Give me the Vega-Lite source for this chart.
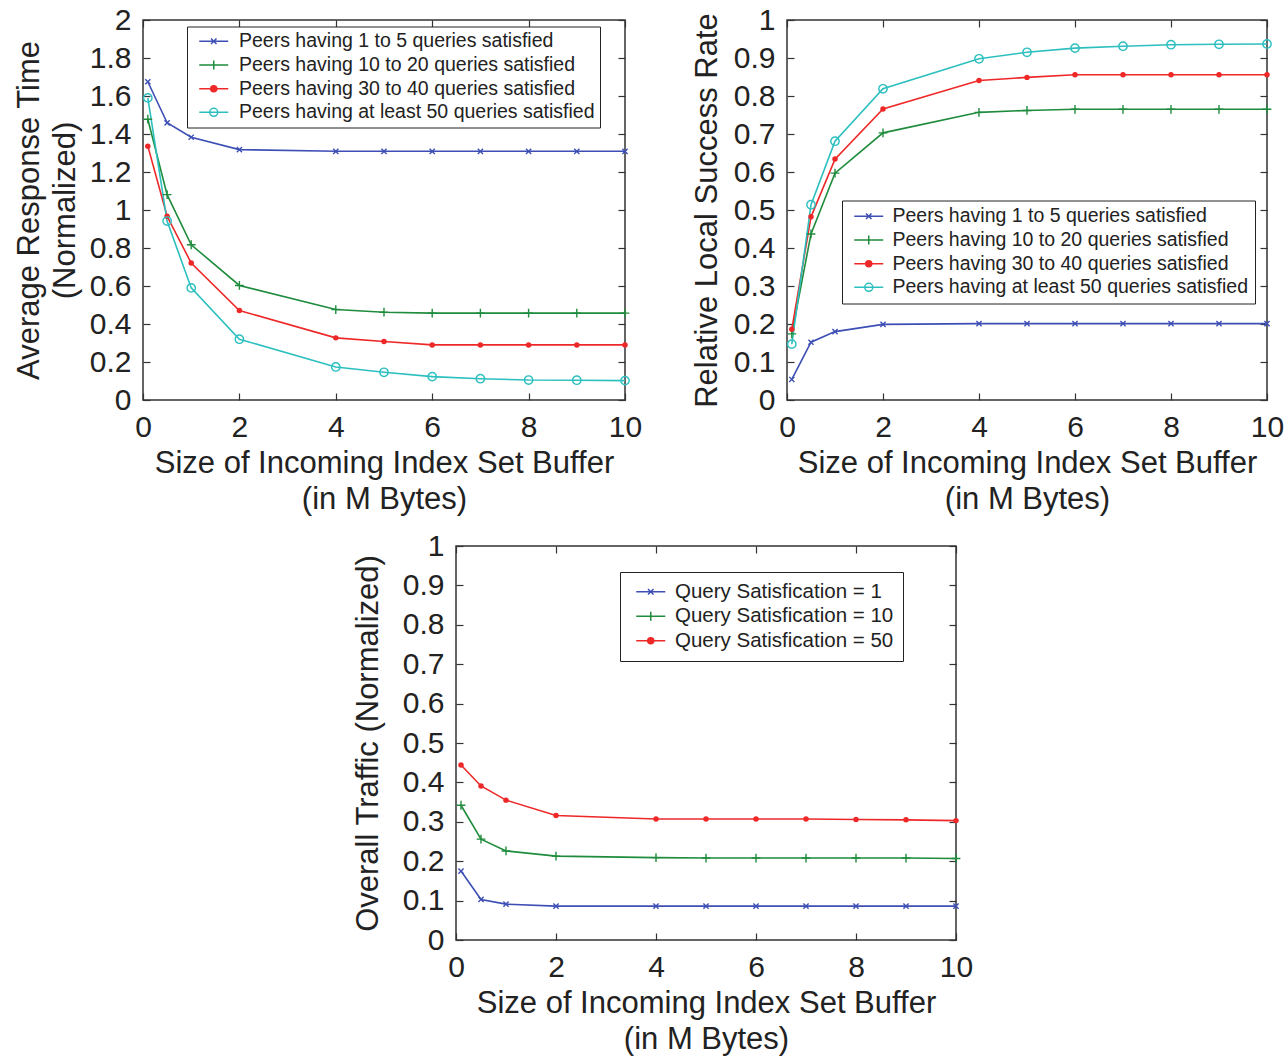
{
  "$schema": "https://vega.github.io/schema/vega-lite/v6.json",
  "padding": {"left": 12, "top": 4, "right": 2, "bottom": 2},
  "background": "white",
  "datasets": {
    "ta": [
      {"x":0.1,"s":"Peers having 1 to 5 queries satisfied","v":1.675},{"x":0.5,"s":"Peers having 1 to 5 queries satisfied","v":1.459},{"x":1,"s":"Peers having 1 to 5 queries satisfied","v":1.383},{"x":2,"s":"Peers having 1 to 5 queries satisfied","v":1.318},{"x":4,"s":"Peers having 1 to 5 queries satisfied","v":1.309},{"x":5,"s":"Peers having 1 to 5 queries satisfied","v":1.309},{"x":6,"s":"Peers having 1 to 5 queries satisfied","v":1.309},{"x":7,"s":"Peers having 1 to 5 queries satisfied","v":1.309},{"x":8,"s":"Peers having 1 to 5 queries satisfied","v":1.309},{"x":9,"s":"Peers having 1 to 5 queries satisfied","v":1.309},{"x":10,"s":"Peers having 1 to 5 queries satisfied","v":1.309},
      {"x":0.1,"s":"Peers having 10 to 20 queries satisfied","v":1.478},{"x":0.5,"s":"Peers having 10 to 20 queries satisfied","v":1.081},{"x":1,"s":"Peers having 10 to 20 queries satisfied","v":0.817},{"x":2,"s":"Peers having 10 to 20 queries satisfied","v":0.603},{"x":4,"s":"Peers having 10 to 20 queries satisfied","v":0.476},{"x":5,"s":"Peers having 10 to 20 queries satisfied","v":0.462},{"x":6,"s":"Peers having 10 to 20 queries satisfied","v":0.457},{"x":7,"s":"Peers having 10 to 20 queries satisfied","v":0.457},{"x":8,"s":"Peers having 10 to 20 queries satisfied","v":0.457},{"x":9,"s":"Peers having 10 to 20 queries satisfied","v":0.457},{"x":10,"s":"Peers having 10 to 20 queries satisfied","v":0.457},
      {"x":0.1,"s":"Peers having 30 to 40 queries satisfied","v":1.336},{"x":0.5,"s":"Peers having 30 to 40 queries satisfied","v":0.967},{"x":1,"s":"Peers having 30 to 40 queries satisfied","v":0.721},{"x":2,"s":"Peers having 30 to 40 queries satisfied","v":0.471},{"x":4,"s":"Peers having 30 to 40 queries satisfied","v":0.327},{"x":5,"s":"Peers having 30 to 40 queries satisfied","v":0.308},{"x":6,"s":"Peers having 30 to 40 queries satisfied","v":0.290},{"x":7,"s":"Peers having 30 to 40 queries satisfied","v":0.290},{"x":8,"s":"Peers having 30 to 40 queries satisfied","v":0.290},{"x":9,"s":"Peers having 30 to 40 queries satisfied","v":0.290},{"x":10,"s":"Peers having 30 to 40 queries satisfied","v":0.290},
      {"x":0.1,"s":"Peers having at least 50 queries satisfied","v":1.590},{"x":0.5,"s":"Peers having at least 50 queries satisfied","v":0.942},{"x":1,"s":"Peers having at least 50 queries satisfied","v":0.590},{"x":2,"s":"Peers having at least 50 queries satisfied","v":0.320},{"x":4,"s":"Peers having at least 50 queries satisfied","v":0.174},{"x":5,"s":"Peers having at least 50 queries satisfied","v":0.146},{"x":6,"s":"Peers having at least 50 queries satisfied","v":0.123},{"x":7,"s":"Peers having at least 50 queries satisfied","v":0.112},{"x":8,"s":"Peers having at least 50 queries satisfied","v":0.105},{"x":9,"s":"Peers having at least 50 queries satisfied","v":0.104},{"x":10,"s":"Peers having at least 50 queries satisfied","v":0.102}
    ],
    "tb": [
      {"x":0.1,"s":"Peers having 1 to 5 queries satisfied","v":0.054},{"x":0.5,"s":"Peers having 1 to 5 queries satisfied","v":0.152},{"x":1,"s":"Peers having 1 to 5 queries satisfied","v":0.180},{"x":2,"s":"Peers having 1 to 5 queries satisfied","v":0.199},{"x":4,"s":"Peers having 1 to 5 queries satisfied","v":0.201},{"x":5,"s":"Peers having 1 to 5 queries satisfied","v":0.201},{"x":6,"s":"Peers having 1 to 5 queries satisfied","v":0.201},{"x":7,"s":"Peers having 1 to 5 queries satisfied","v":0.201},{"x":8,"s":"Peers having 1 to 5 queries satisfied","v":0.201},{"x":9,"s":"Peers having 1 to 5 queries satisfied","v":0.201},{"x":10,"s":"Peers having 1 to 5 queries satisfied","v":0.201},
      {"x":0.1,"s":"Peers having 10 to 20 queries satisfied","v":0.174},{"x":0.5,"s":"Peers having 10 to 20 queries satisfied","v":0.437},{"x":1,"s":"Peers having 10 to 20 queries satisfied","v":0.597},{"x":2,"s":"Peers having 10 to 20 queries satisfied","v":0.703},{"x":4,"s":"Peers having 10 to 20 queries satisfied","v":0.757},{"x":5,"s":"Peers having 10 to 20 queries satisfied","v":0.762},{"x":6,"s":"Peers having 10 to 20 queries satisfied","v":0.765},{"x":7,"s":"Peers having 10 to 20 queries satisfied","v":0.765},{"x":8,"s":"Peers having 10 to 20 queries satisfied","v":0.765},{"x":9,"s":"Peers having 10 to 20 queries satisfied","v":0.765},{"x":10,"s":"Peers having 10 to 20 queries satisfied","v":0.765},
      {"x":0.1,"s":"Peers having 30 to 40 queries satisfied","v":0.186},{"x":0.5,"s":"Peers having 30 to 40 queries satisfied","v":0.482},{"x":1,"s":"Peers having 30 to 40 queries satisfied","v":0.634},{"x":2,"s":"Peers having 30 to 40 queries satisfied","v":0.766},{"x":4,"s":"Peers having 30 to 40 queries satisfied","v":0.841},{"x":5,"s":"Peers having 30 to 40 queries satisfied","v":0.849},{"x":6,"s":"Peers having 30 to 40 queries satisfied","v":0.856},{"x":7,"s":"Peers having 30 to 40 queries satisfied","v":0.856},{"x":8,"s":"Peers having 30 to 40 queries satisfied","v":0.856},{"x":9,"s":"Peers having 30 to 40 queries satisfied","v":0.856},{"x":10,"s":"Peers having 30 to 40 queries satisfied","v":0.856},
      {"x":0.1,"s":"Peers having at least 50 queries satisfied","v":0.147},{"x":0.5,"s":"Peers having at least 50 queries satisfied","v":0.514},{"x":1,"s":"Peers having at least 50 queries satisfied","v":0.681},{"x":2,"s":"Peers having at least 50 queries satisfied","v":0.819},{"x":4,"s":"Peers having at least 50 queries satisfied","v":0.898},{"x":5,"s":"Peers having at least 50 queries satisfied","v":0.915},{"x":6,"s":"Peers having at least 50 queries satisfied","v":0.926},{"x":7,"s":"Peers having at least 50 queries satisfied","v":0.931},{"x":8,"s":"Peers having at least 50 queries satisfied","v":0.935},{"x":9,"s":"Peers having at least 50 queries satisfied","v":0.936},{"x":10,"s":"Peers having at least 50 queries satisfied","v":0.937}
    ],
    "tc": [
      {"x":0.1,"s":"Query Satisfication = 1","v":0.175},{"x":0.5,"s":"Query Satisfication = 1","v":0.103},{"x":1,"s":"Query Satisfication = 1","v":0.091},{"x":2,"s":"Query Satisfication = 1","v":0.086},{"x":4,"s":"Query Satisfication = 1","v":0.086},{"x":5,"s":"Query Satisfication = 1","v":0.086},{"x":6,"s":"Query Satisfication = 1","v":0.086},{"x":7,"s":"Query Satisfication = 1","v":0.086},{"x":8,"s":"Query Satisfication = 1","v":0.086},{"x":9,"s":"Query Satisfication = 1","v":0.086},{"x":10,"s":"Query Satisfication = 1","v":0.086},
      {"x":0.1,"s":"Query Satisfication = 10","v":0.342},{"x":0.5,"s":"Query Satisfication = 10","v":0.256},{"x":1,"s":"Query Satisfication = 10","v":0.226},{"x":2,"s":"Query Satisfication = 10","v":0.213},{"x":4,"s":"Query Satisfication = 10","v":0.209},{"x":5,"s":"Query Satisfication = 10","v":0.208},{"x":6,"s":"Query Satisfication = 10","v":0.208},{"x":7,"s":"Query Satisfication = 10","v":0.208},{"x":8,"s":"Query Satisfication = 10","v":0.208},{"x":9,"s":"Query Satisfication = 10","v":0.208},{"x":10,"s":"Query Satisfication = 10","v":0.207},
      {"x":0.1,"s":"Query Satisfication = 50","v":0.444},{"x":0.5,"s":"Query Satisfication = 50","v":0.391},{"x":1,"s":"Query Satisfication = 50","v":0.355},{"x":2,"s":"Query Satisfication = 50","v":0.316},{"x":4,"s":"Query Satisfication = 50","v":0.307},{"x":5,"s":"Query Satisfication = 50","v":0.307},{"x":6,"s":"Query Satisfication = 50","v":0.307},{"x":7,"s":"Query Satisfication = 50","v":0.307},{"x":8,"s":"Query Satisfication = 50","v":0.306},{"x":9,"s":"Query Satisfication = 50","v":0.305},{"x":10,"s":"Query Satisfication = 50","v":0.303}
    ]
  },
  "resolve": {"scale": {"color": "independent", "shape": "independent", "fill": "independent"}, "legend": {"color": "independent", "shape": "independent", "fill": "independent"}},
  "spacing": 15,
  "vconcat": [
    {
      "hconcat": [
        {
          "width": 482, "height": 380,
          "data": {"name": "ta"},
          "layer": [
            {
              "mark": {"type": "point", "filled": false, "strokeWidth": 1.5, "opacity": 0},
              "encoding": {
                "x": {"field": "x", "type": "quantitative", "scale": {"domain": [0, 10], "nice": false, "zero": false}, "axis": null},
                "y": {"field": "v", "type": "quantitative", "scale": {"domain": [0, 2], "nice": false}, "axis": null},
                "color": {"field": "s", "type": "nominal",
                  "scale": {"domain": ["Peers having 1 to 5 queries satisfied", "Peers having 10 to 20 queries satisfied", "Peers having 30 to 40 queries satisfied", "Peers having at least 50 queries satisfied"], "range": ["#3d4fb5", "#1e8c3c", "#ee2828", "#2cbfbf"]},
                  "legend": {"title": null, "orient": "none", "legendX": 44, "legendY": 6.5, "strokeColor": "#222", "fillColor": "white", "padding": 5, "labelFontSize": 19.5, "labelColor": "#222", "labelLimit": 1000, "symbolSize": 100, "symbolOffset": 12, "labelOffset": 15.5, "rowPadding": 2.7, "symbolStrokeWidth": 1.5, "symbolOpacity": 1}},
                "shape": {"field": "s", "type": "nominal",
                  "legend": {"title": null, "orient": "none", "legendX": 44, "legendY": 6.5, "strokeColor": "#222", "fillColor": "white", "padding": 5, "labelFontSize": 19.5, "labelColor": "#222", "labelLimit": 1000, "symbolSize": 100, "symbolOffset": 12, "labelOffset": 15.5, "rowPadding": 2.7, "symbolStrokeWidth": 1.5, "symbolOpacity": 1},
                  "scale": {"domain": ["Peers having 1 to 5 queries satisfied", "Peers having 10 to 20 queries satisfied", "Peers having 30 to 40 queries satisfied", "Peers having at least 50 queries satisfied"], "range": ["M-2.9,0H2.9M-0.55,-0.55L0.55,0.55M-0.55,0.55L0.55,-0.55", "M-2.9,0H2.9M0,-0.9V0.9", "M-2.9,0H2.9M-0.6,0A0.6,0.6 0 1,0 0.6,0A0.6,0.6 0 1,0 -0.6,0Z", "M-2.9,0H2.9M-0.8,0A0.8,0.8 0 1,0 0.8,0A0.8,0.8 0 1,0 -0.8,0Z"]}},
                "fill": {"field": "s", "type": "nominal",
                  "legend": {"title": null, "orient": "none", "legendX": 44, "legendY": 6.5, "strokeColor": "#222", "fillColor": "white", "padding": 5, "labelFontSize": 19.5, "labelColor": "#222", "labelLimit": 1000, "symbolSize": 100, "symbolOffset": 12, "labelOffset": 15.5, "rowPadding": 2.7, "symbolStrokeWidth": 1.5, "symbolOpacity": 1},
                  "scale": {"domain": ["Peers having 1 to 5 queries satisfied", "Peers having 10 to 20 queries satisfied", "Peers having 30 to 40 queries satisfied", "Peers having at least 50 queries satisfied"], "range": ["transparent", "transparent", "#ee2828", "transparent"]}}
              }
            },
            {
              "mark": {"type": "line", "strokeWidth": 1.6},
              "encoding": {
                "x": {"field": "x", "type": "quantitative", "axis": {"values": [0, 2, 4, 6, 8, 10], "title": ["Size of Incoming Index Set Buffer", "(in M Bytes)"]}},
                "y": {"field": "v", "type": "quantitative", "axis": {"values": [0, 0.2, 0.4, 0.6, 0.8, 1, 1.2, 1.4, 1.6, 1.8, 2], "format": ".1~f", "titlePadding": 8, "title": ["Average Response Time", "(Normalized)"]}},
                "color": {"field": "s", "type": "nominal", "legend": null}
              }
            },
            {
              "transform": [{"filter": {"field": "s", "equal": "Peers having 1 to 5 queries satisfied"}}],
              "mark": {"type": "point", "shape": "M-0.65,-0.65L0.65,0.65M-0.65,0.65L0.65,-0.65", "filled": false, "size": 64, "strokeWidth": 1.4, "opacity": 1, "color": "#3d4fb5"},
              "encoding": {
                "x": {"field": "x", "type": "quantitative", "axis": {"orient": "top", "values": [0, 2, 4, 6, 8, 10], "labels": false, "title": null}},
                "y": {"field": "v", "type": "quantitative", "axis": {"orient": "right", "values": [0, 0.2, 0.4, 0.6, 0.8, 1, 1.2, 1.4, 1.6, 1.8, 2], "labels": false, "title": null}}
              }
            },
            {
              "transform": [{"filter": {"field": "s", "equal": "Peers having 10 to 20 queries satisfied"}}],
              "mark": {"type": "point", "shape": "M-1.1,0H1.1M0,-1.1V1.1", "filled": false, "size": 64, "strokeWidth": 1.4, "opacity": 1, "color": "#1e8c3c"},
              "encoding": {"x": {"field": "x", "type": "quantitative", "axis": null}, "y": {"field": "v", "type": "quantitative", "axis": null}}
            },
            {
              "transform": [{"filter": {"field": "s", "equal": "Peers having 30 to 40 queries satisfied"}}],
              "mark": {"type": "point", "shape": "circle", "filled": true, "size": 30, "opacity": 1, "color": "#ee2828"},
              "encoding": {"x": {"field": "x", "type": "quantitative", "axis": null}, "y": {"field": "v", "type": "quantitative", "axis": null}}
            },
            {
              "transform": [{"filter": {"field": "s", "equal": "Peers having at least 50 queries satisfied"}}],
              "mark": {"type": "point", "shape": "circle", "filled": false, "size": 70, "strokeWidth": 1.4, "opacity": 1, "color": "#2cbfbf"},
              "encoding": {"x": {"field": "x", "type": "quantitative", "axis": null}, "y": {"field": "v", "type": "quantitative", "axis": null}}
            }
          ],
          "resolve": {"axis": {"x": "independent", "y": "independent"}}
        },
        {
          "width": 480, "height": 380,
          "data": {"name": "tb"},
          "layer": [
            {
              "mark": {"type": "point", "filled": false, "strokeWidth": 1.5, "opacity": 0},
              "encoding": {
                "x": {"field": "x", "type": "quantitative", "scale": {"domain": [0, 10], "nice": false, "zero": false}, "axis": null},
                "y": {"field": "v", "type": "quantitative", "scale": {"domain": [0, 1], "nice": false}, "axis": null},
                "color": {"field": "s", "type": "nominal",
                  "scale": {"domain": ["Peers having 1 to 5 queries satisfied", "Peers having 10 to 20 queries satisfied", "Peers having 30 to 40 queries satisfied", "Peers having at least 50 queries satisfied"], "range": ["#3d4fb5", "#1e8c3c", "#ee2828", "#2cbfbf"]},
                  "legend": {"title": null, "orient": "none", "legendX": 55, "legendY": 180.5, "strokeColor": "#222", "fillColor": "white", "padding": 6, "labelFontSize": 19.5, "labelColor": "#222", "labelLimit": 1000, "symbolSize": 100, "symbolOffset": 11, "labelOffset": 14, "rowPadding": 2.7, "symbolStrokeWidth": 1.5, "symbolOpacity": 1}},
                "shape": {"field": "s", "type": "nominal",
                  "legend": {"title": null, "orient": "none", "legendX": 55, "legendY": 180.5, "strokeColor": "#222", "fillColor": "white", "padding": 6, "labelFontSize": 19.5, "labelColor": "#222", "labelLimit": 1000, "symbolSize": 100, "symbolOffset": 11, "labelOffset": 14, "rowPadding": 2.7, "symbolStrokeWidth": 1.5, "symbolOpacity": 1},
                  "scale": {"domain": ["Peers having 1 to 5 queries satisfied", "Peers having 10 to 20 queries satisfied", "Peers having 30 to 40 queries satisfied", "Peers having at least 50 queries satisfied"], "range": ["M-2.9,0H2.9M-0.55,-0.55L0.55,0.55M-0.55,0.55L0.55,-0.55", "M-2.9,0H2.9M0,-0.9V0.9", "M-2.9,0H2.9M-0.6,0A0.6,0.6 0 1,0 0.6,0A0.6,0.6 0 1,0 -0.6,0Z", "M-2.9,0H2.9M-0.8,0A0.8,0.8 0 1,0 0.8,0A0.8,0.8 0 1,0 -0.8,0Z"]}},
                "fill": {"field": "s", "type": "nominal",
                  "legend": {"title": null, "orient": "none", "legendX": 55, "legendY": 180.5, "strokeColor": "#222", "fillColor": "white", "padding": 6, "labelFontSize": 19.5, "labelColor": "#222", "labelLimit": 1000, "symbolSize": 100, "symbolOffset": 11, "labelOffset": 14, "rowPadding": 2.7, "symbolStrokeWidth": 1.5, "symbolOpacity": 1},
                  "scale": {"domain": ["Peers having 1 to 5 queries satisfied", "Peers having 10 to 20 queries satisfied", "Peers having 30 to 40 queries satisfied", "Peers having at least 50 queries satisfied"], "range": ["transparent", "transparent", "#ee2828", "transparent"]}}
              }
            },
            {
              "mark": {"type": "line", "strokeWidth": 1.6},
              "encoding": {
                "x": {"field": "x", "type": "quantitative", "axis": {"values": [0, 2, 4, 6, 8, 10], "title": ["Size of Incoming Index Set Buffer", "(in M Bytes)"]}},
                "y": {"field": "v", "type": "quantitative", "axis": {"values": [0, 0.1, 0.2, 0.3, 0.4, 0.5, 0.6, 0.7, 0.8, 0.9, 1], "format": ".1~f", "titlePadding": 10, "title": "Relative Local Success Rate"}},
                "color": {"field": "s", "type": "nominal", "legend": null}
              }
            },
            {
              "transform": [{"filter": {"field": "s", "equal": "Peers having 1 to 5 queries satisfied"}}],
              "mark": {"type": "point", "shape": "M-0.65,-0.65L0.65,0.65M-0.65,0.65L0.65,-0.65", "filled": false, "size": 64, "strokeWidth": 1.4, "opacity": 1, "color": "#3d4fb5"},
              "encoding": {
                "x": {"field": "x", "type": "quantitative", "axis": {"orient": "top", "values": [0, 2, 4, 6, 8, 10], "labels": false, "title": null}},
                "y": {"field": "v", "type": "quantitative", "axis": {"orient": "right", "values": [0, 0.1, 0.2, 0.3, 0.4, 0.5, 0.6, 0.7, 0.8, 0.9, 1], "labels": false, "title": null}}
              }
            },
            {
              "transform": [{"filter": {"field": "s", "equal": "Peers having 10 to 20 queries satisfied"}}],
              "mark": {"type": "point", "shape": "M-1.1,0H1.1M0,-1.1V1.1", "filled": false, "size": 64, "strokeWidth": 1.4, "opacity": 1, "color": "#1e8c3c"},
              "encoding": {"x": {"field": "x", "type": "quantitative", "axis": null}, "y": {"field": "v", "type": "quantitative", "axis": null}}
            },
            {
              "transform": [{"filter": {"field": "s", "equal": "Peers having 30 to 40 queries satisfied"}}],
              "mark": {"type": "point", "shape": "circle", "filled": true, "size": 30, "opacity": 1, "color": "#ee2828"},
              "encoding": {"x": {"field": "x", "type": "quantitative", "axis": null}, "y": {"field": "v", "type": "quantitative", "axis": null}}
            },
            {
              "transform": [{"filter": {"field": "s", "equal": "Peers having at least 50 queries satisfied"}}],
              "mark": {"type": "point", "shape": "circle", "filled": false, "size": 70, "strokeWidth": 1.4, "opacity": 1, "color": "#2cbfbf"},
              "encoding": {"x": {"field": "x", "type": "quantitative", "axis": null}, "y": {"field": "v", "type": "quantitative", "axis": null}}
            }
          ],
          "resolve": {"axis": {"x": "independent", "y": "independent"}}
        }
      ],
      "spacing": 47,
      "resolve": {"scale": {"color": "independent", "shape": "independent", "fill": "independent"}, "legend": {"color": "independent", "shape": "independent", "fill": "independent"}}
    },
    {
      "hconcat": [
        {
          "width": 208, "height": 10,
          "view": {"stroke": null},
          "data": {"values": [{}]},
          "mark": {"type": "point", "opacity": 0},
          "encoding": {}
        },
        {
          "width": 500, "height": 394,
          "data": {"name": "tc"},
          "layer": [
            {
              "mark": {"type": "point", "filled": false, "strokeWidth": 1.5, "opacity": 0},
              "encoding": {
                "x": {"field": "x", "type": "quantitative", "scale": {"domain": [0, 10], "nice": false, "zero": false}, "axis": null},
                "y": {"field": "v", "type": "quantitative", "scale": {"domain": [0, 1], "nice": false}, "axis": null},
                "color": {"field": "s", "type": "nominal",
                  "scale": {"domain": ["Query Satisfication = 1", "Query Satisfication = 10", "Query Satisfication = 50"], "range": ["#3d4fb5", "#1e8c3c", "#ee2828"]},
                  "legend": {"title": null, "orient": "none", "legendX": 164, "legendY": 26, "strokeColor": "#222", "fillColor": "white", "padding": 9.5, "labelFontSize": 20.5, "labelColor": "#222", "labelLimit": 1000, "symbolSize": 100, "symbolOffset": 11, "labelOffset": 14, "rowPadding": 3.5, "symbolStrokeWidth": 1.5, "symbolOpacity": 1}},
                "shape": {"field": "s", "type": "nominal",
                  "legend": {"title": null, "orient": "none", "legendX": 164, "legendY": 26, "strokeColor": "#222", "fillColor": "white", "padding": 9.5, "labelFontSize": 20.5, "labelColor": "#222", "labelLimit": 1000, "symbolSize": 100, "symbolOffset": 11, "labelOffset": 14, "rowPadding": 3.5, "symbolStrokeWidth": 1.5, "symbolOpacity": 1},
                  "scale": {"domain": ["Query Satisfication = 1", "Query Satisfication = 10", "Query Satisfication = 50"], "range": ["M-2.9,0H2.9M-0.55,-0.55L0.55,0.55M-0.55,0.55L0.55,-0.55", "M-2.9,0H2.9M0,-0.9V0.9", "M-2.9,0H2.9M-0.6,0A0.6,0.6 0 1,0 0.6,0A0.6,0.6 0 1,0 -0.6,0Z"]}},
                "fill": {"field": "s", "type": "nominal",
                  "legend": {"title": null, "orient": "none", "legendX": 164, "legendY": 26, "strokeColor": "#222", "fillColor": "white", "padding": 9.5, "labelFontSize": 20.5, "labelColor": "#222", "labelLimit": 1000, "symbolSize": 100, "symbolOffset": 11, "labelOffset": 14, "rowPadding": 3.5, "symbolStrokeWidth": 1.5, "symbolOpacity": 1},
                  "scale": {"domain": ["Query Satisfication = 1", "Query Satisfication = 10", "Query Satisfication = 50"], "range": ["transparent", "transparent", "#ee2828"]}}
              }
            },
            {
              "mark": {"type": "line", "strokeWidth": 1.6},
              "encoding": {
                "x": {"field": "x", "type": "quantitative", "axis": {"values": [0, 2, 4, 6, 8, 10], "title": ["Size of Incoming Index Set Buffer", "(in M Bytes)"]}},
                "y": {"field": "v", "type": "quantitative", "axis": {"values": [0, 0.1, 0.2, 0.3, 0.4, 0.5, 0.6, 0.7, 0.8, 0.9, 1], "format": ".1~f", "title": "Overall Traffic (Normalized)", "titlePadding": 18}},
                "color": {"field": "s", "type": "nominal", "legend": null}
              }
            },
            {
              "transform": [{"filter": {"field": "s", "equal": "Query Satisfication = 1"}}],
              "mark": {"type": "point", "shape": "M-0.65,-0.65L0.65,0.65M-0.65,0.65L0.65,-0.65", "filled": false, "size": 64, "strokeWidth": 1.4, "opacity": 1, "color": "#3d4fb5"},
              "encoding": {
                "x": {"field": "x", "type": "quantitative", "axis": {"orient": "top", "values": [0, 2, 4, 6, 8, 10], "labels": false, "title": null}},
                "y": {"field": "v", "type": "quantitative", "axis": {"orient": "right", "values": [0, 0.1, 0.2, 0.3, 0.4, 0.5, 0.6, 0.7, 0.8, 0.9, 1], "labels": false, "title": null}}
              }
            },
            {
              "transform": [{"filter": {"field": "s", "equal": "Query Satisfication = 10"}}],
              "mark": {"type": "point", "shape": "M-1.1,0H1.1M0,-1.1V1.1", "filled": false, "size": 64, "strokeWidth": 1.4, "opacity": 1, "color": "#1e8c3c"},
              "encoding": {"x": {"field": "x", "type": "quantitative", "axis": null}, "y": {"field": "v", "type": "quantitative", "axis": null}}
            },
            {
              "transform": [{"filter": {"field": "s", "equal": "Query Satisfication = 50"}}],
              "mark": {"type": "point", "shape": "circle", "filled": true, "size": 30, "opacity": 1, "color": "#ee2828"},
              "encoding": {"x": {"field": "x", "type": "quantitative", "axis": null}, "y": {"field": "v", "type": "quantitative", "axis": null}}
            }
          ],
          "resolve": {"axis": {"x": "independent", "y": "independent"}}
        }
      ],
      "spacing": 0,
      "resolve": {"scale": {"color": "independent", "shape": "independent", "fill": "independent"}, "legend": {"color": "independent", "shape": "independent", "fill": "independent"}}
    }
  ],
  "config": {
    "font": "Liberation Sans",
    "view": {"stroke": "#333", "strokeWidth": 1.5},
    "axis": {"grid": false, "domain": false, "tickSize": -7, "tickColor": "#333", "tickWidth": 1.2, "labelFontSize": 30, "labelColor": "#222", "labelFont": "Liberation Sans", "titleFont": "Liberation Sans", "titleFontSize": 31, "titleFontWeight": "normal", "titleColor": "#222", "labelFlush": false, "labelOverlap": false, "labelBound": false, "labelPadding": 19, "titleLineHeight": 36, "titlePadding": 6},
    "legend": {"labelFont": "Liberation Sans"}
  }
}
